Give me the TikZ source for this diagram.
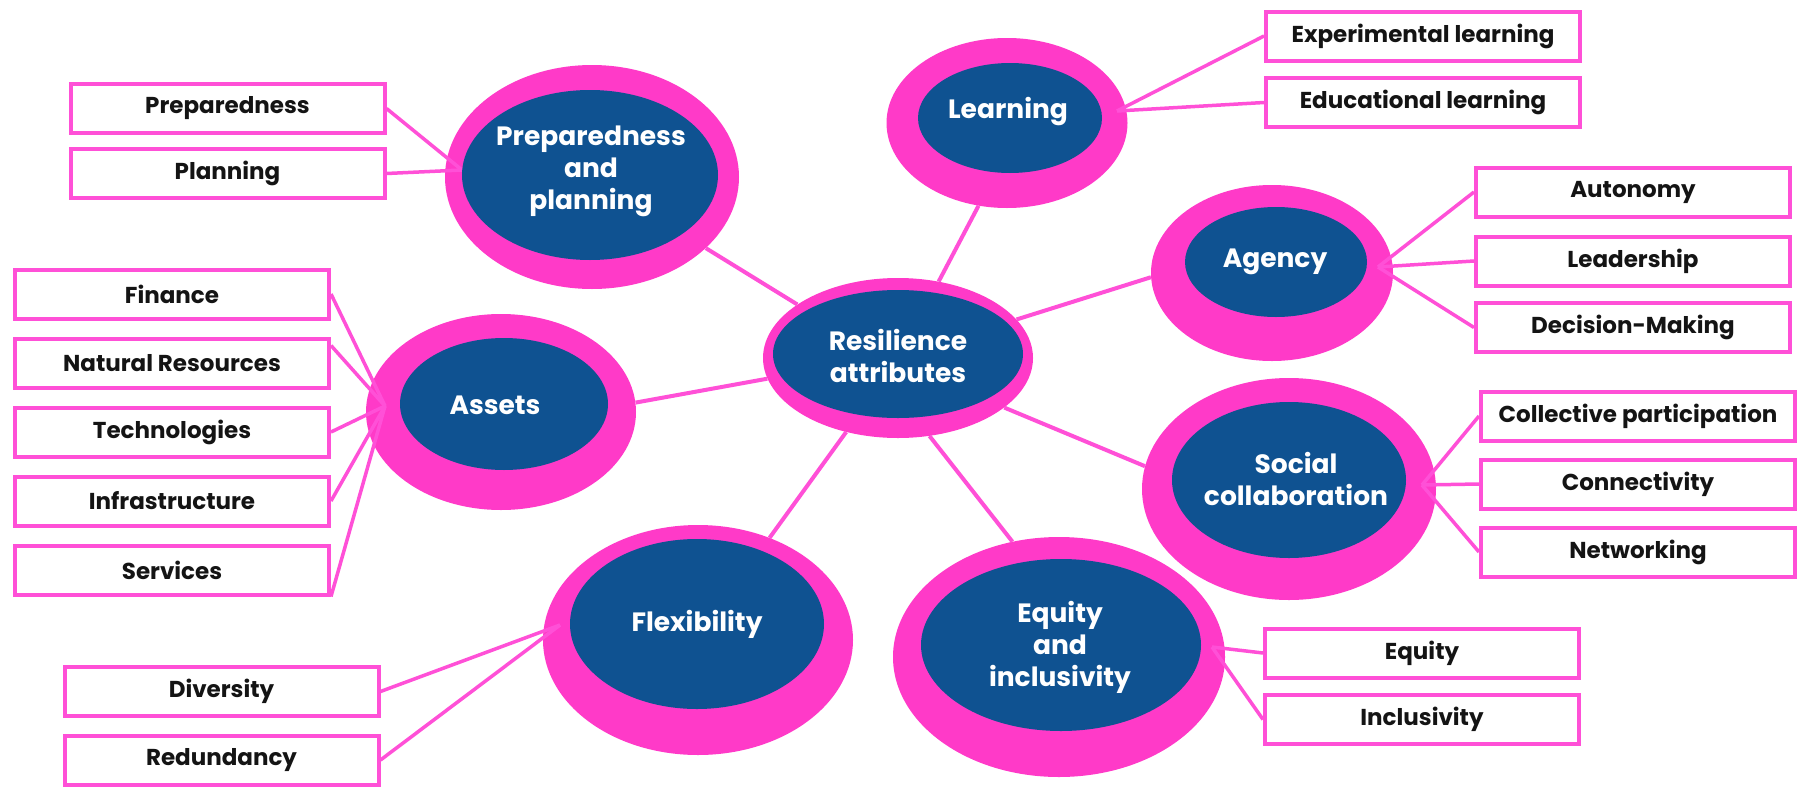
\documentclass[tikz,border=0pt]{standalone}
\usepackage{fontspec}
\setmainfont{Poppins}
\usetikzlibrary{shapes.geometric,calc}
\pgfdeclarelayer{bglayer}
\pgfdeclarelayer{ringlayer}
\pgfdeclarelayer{linklayer}
\pgfsetlayers{bglayer,ringlayer,linklayer,main}
\definecolor{ringpink}{RGB}{255,58,200}
\definecolor{linepink}{RGB}{255,80,215}
\definecolor{nodeblue}{RGB}{15,82,145}
\definecolor{txtdark}{RGB}{20,20,20}
\begin{document}
\begin{tikzpicture}[x=1pt,y=-1pt,
  ring/.style={ellipse, fill=ringpink, inner sep=0pt, draw=none},
  core/.style={ellipse, fill=nodeblue, inner sep=0pt, draw=none},
  lbl/.style={text=white, font=\fontsize{26.5}{32}\selectfont\bfseries, align=center, inner sep=0pt},
  leaf/.style={rectangle, draw=linepink, line width=4pt, fill=white, minimum width=314pt, minimum height=49pt, inner sep=0pt, text=txtdark, font=\fontsize{23}{26}\selectfont\bfseries},
  link/.style={draw=linepink, line width=4pt},
  spoke/.style={draw=linepink, line width=3.5pt}]
\useasboundingbox (0,0) rectangle (1805,790);
\begin{pgfonlayer}{bglayer}
\fill[white] (0,0) rectangle (1805,790);
\end{pgfonlayer}

% rings
\begin{pgfonlayer}{ringlayer}
\node[ring, minimum width=294pt, minimum height=224pt] (prepout) at (592,177) {};
\node[ring, minimum width=241pt, minimum height=170pt] (learnout) at (1007,123) {};
\node[ring, minimum width=242pt, minimum height=176pt] (agout) at (1272,273) {};
\node[ring, minimum width=270pt, minimum height=160pt] (resout) at (898,358) {};
\node[ring, minimum width=270pt, minimum height=196pt] (asout) at (501,412) {};
\node[ring, minimum width=294pt, minimum height=222pt] (socout) at (1289,489) {};
\node[ring, minimum width=332pt, minimum height=240pt] (eqout) at (1059,657) {};
\node[ring, minimum width=310pt, minimum height=230pt] (flexout) at (698,640) {};
\end{pgfonlayer}

% cores
\node[core, minimum width=256pt, minimum height=170pt] (prepin) at (590,175) {};
\node[core, minimum width=184pt, minimum height=110pt] (learnin) at (1010,118) {};
\node[core, minimum width=182pt, minimum height=110pt] (agin) at (1276,262) {};
\node[core, minimum width=250pt, minimum height=128pt] (resin) at (898,354) {};
\node[core, minimum width=208pt, minimum height=132pt] (asin) at (504,404) {};
\node[core, minimum width=234pt, minimum height=156pt] (socin) at (1289,480) {};
\node[core, minimum width=280pt, minimum height=172pt] (eqin) at (1061,645) {};
\node[core, minimum width=254pt, minimum height=170pt] (flexin) at (697,624) {};

% labels
\node[lbl] (preptxt) at (591,171) {Preparedness\\and\\planning};
\node[lbl] (learntxt) at (1008,112) {Learning};
\node[lbl] (agtxt) at (1275,262) {Agency};
\node[lbl] (restxt) at (898,356) {Resilience\\attributes};
\node[lbl] (astxt) at (495,405) {Assets};
\node[lbl] (soctxt) at (1296,479) {Social\\collaboration};
\node[lbl] (eqtxt) at (1060,647) {Equity\\and\\inclusivity};
\node[lbl] (flextxt) at (697,624) {Flexibility};

% leaf boxes
\node[leaf] (bprep) at (227.5,108.5) {Preparedness};
\node[leaf] (bplan) at (227.5,173.5) {Planning};
\node[leaf] (bexp) at (1423,36) {Experimental learning};
\node[leaf] (bedu) at (1423,102.5) {Educational learning};
\node[leaf] (baut) at (1633,192) {Autonomy};
\node[leaf] (blead) at (1633,261) {Leadership};
\node[leaf] (bdec) at (1633,327.5) {Decision-Making};
\node[leaf] (bfin) at (172,294) {Finance};
\node[leaf] (bnat) at (172,363) {Natural Resources};
\node[leaf] (btech) at (172,432) {Technologies};
\node[leaf] (binf) at (172,501) {Infrastructure};
\node[leaf] (bserv) at (172,570) {Services};
\node[leaf] (bcoll) at (1638,416) {Collective participation};
\node[leaf] (bconn) at (1638,484) {Connectivity};
\node[leaf] (bnet) at (1638,552) {Networking};
\node[leaf] (bdiv) at (221.5,691.5) {Diversity};
\node[leaf] (bred) at (221.5,760) {Redundancy};
\node[leaf] (beq) at (1422,653) {Equity};
\node[leaf] (bincl) at (1422,719.5) {Inclusivity};

% hubs
\coordinate (prephub) at (462,170);
\coordinate (learnhub) at (1117,111);
\coordinate (aghub) at (1378,267);
\coordinate (ashub) at (385,406);
\coordinate (sochub) at (1422,485);
\coordinate (eqhub) at (1212,647);
\coordinate (flexhub) at (560,625);

\begin{pgfonlayer}{linklayer}
% links between attributes
\draw[link] (resout.152) -- (prepout.-32);
\draw[link] (resout.62) -- (learnout.251);
\draw[link] (resout.18) -- (agout.182);
\draw[link] (resout.-25) -- (socout.171);
\draw[link] (resout.-68) -- (eqout.112);
\draw[link] (resout.235) -- (flexout.55);
\draw[link] (resout.189) -- (asout.4);
% spokes
\draw[spoke] (bprep.east) -- (prephub);
\draw[spoke] (bplan.east) -- (prephub);
\draw[spoke] (bexp.west) -- (learnhub);
\draw[spoke] (bedu.west) -- (learnhub);
\draw[spoke] (baut.west) -- (aghub);
\draw[spoke] (blead.west) -- (aghub);
\draw[spoke] (bdec.west) -- (aghub);
\draw[spoke] (bfin.east) -- (ashub);
\draw[spoke] ($(bnat.north east)+(0,9)$) -- (ashub);
\draw[spoke] (btech.east) -- (ashub);
\draw[spoke] (binf.east) -- (ashub);
\draw[spoke] (bserv.south east) -- (ashub);
\draw[spoke] (bcoll.west) -- (sochub);
\draw[spoke] (bconn.west) -- (sochub);
\draw[spoke] (bnet.west) -- (sochub);
\draw[spoke] (beq.west) -- (eqhub);
\draw[spoke] (bincl.west) -- (eqhub);
\draw[spoke] (bdiv.east) -- (flexhub);
\draw[spoke] (bred.east) -- (flexhub);
\end{pgfonlayer}
\end{tikzpicture}
\end{document}
